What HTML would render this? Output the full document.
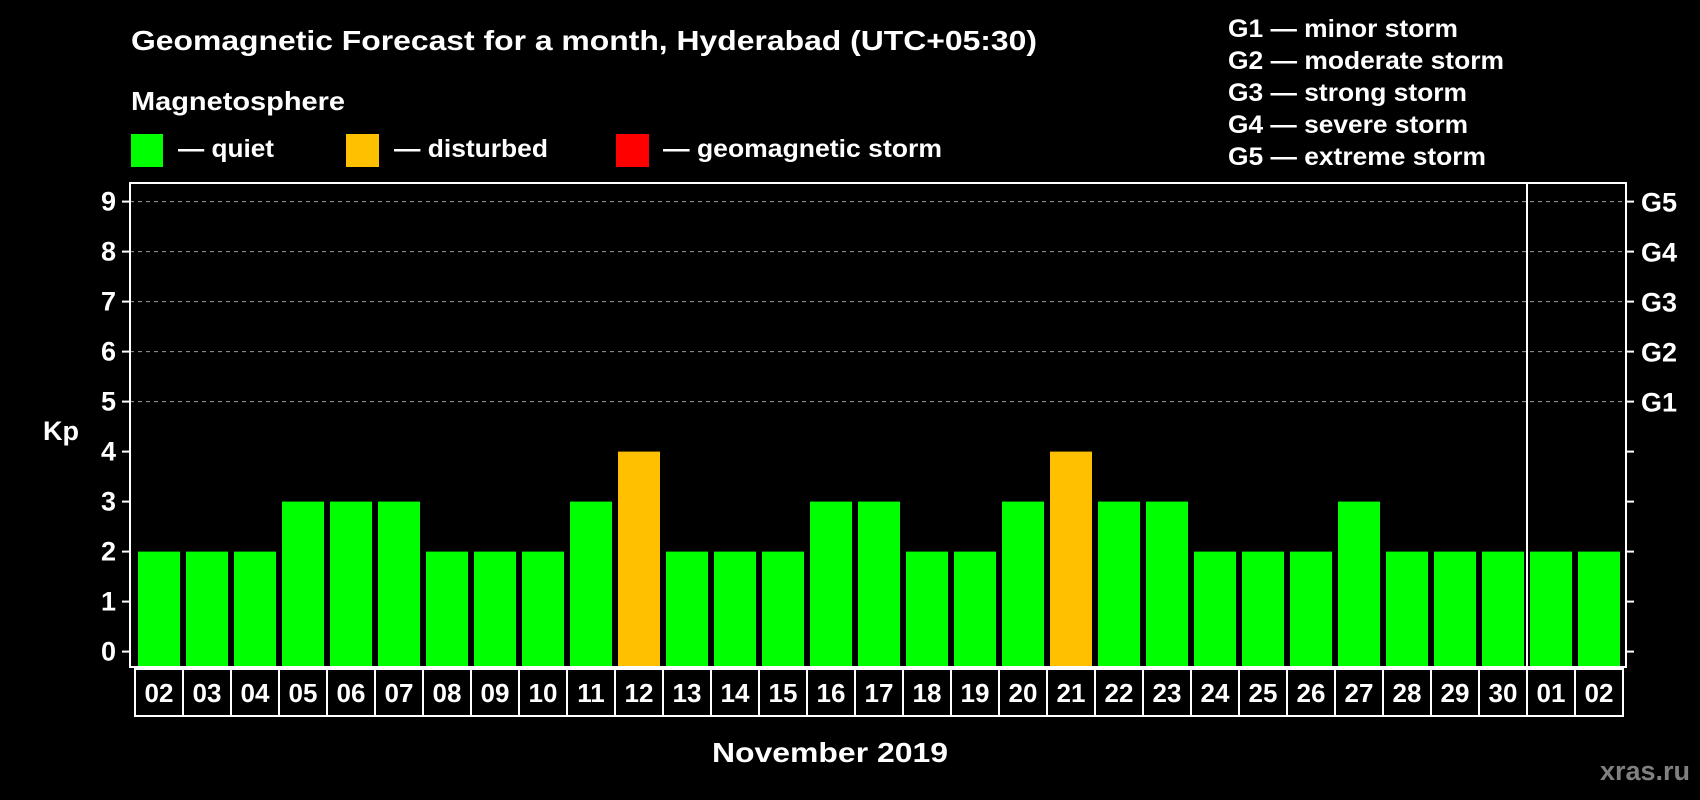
<!DOCTYPE html>
<html><head><meta charset="utf-8"><style>
html,body{margin:0;padding:0;background:#000;}
svg{display:block;font-family:"Liberation Sans",Arial,sans-serif;font-weight:bold;}
</style></head><body>
<svg id="chart" width="1700" height="800" viewBox="0 0 1700 800" xmlns="http://www.w3.org/2000/svg">
<rect x="0" y="0" width="1700" height="800" fill="#000"/>
<text x="131" y="50" fill="#fff" font-size="28" textLength="906" lengthAdjust="spacingAndGlyphs">Geomagnetic Forecast for a month, Hyderabad (UTC+05:30)</text>
<text x="131" y="110" fill="#fff" font-size="26" textLength="214" lengthAdjust="spacingAndGlyphs">Magnetosphere</text>
<g>
<rect x="131" y="134" width="32" height="33" fill="#00ff00"/>
<text x="178" y="157" fill="#fff" font-size="25" textLength="96" lengthAdjust="spacingAndGlyphs">— quiet</text>
</g>
<g>
<rect x="346" y="134" width="33" height="33" fill="#ffc000"/>
<text x="394" y="157" fill="#fff" font-size="25" textLength="154" lengthAdjust="spacingAndGlyphs">— disturbed</text>
</g>
<g>
<rect x="616" y="134" width="33" height="33" fill="#ff0000"/>
<text x="663" y="157" fill="#fff" font-size="25" textLength="279" lengthAdjust="spacingAndGlyphs">— geomagnetic storm</text>
</g>
<g fill="#fff" font-size="25">
<text x="1228" y="37" textLength="230" lengthAdjust="spacingAndGlyphs">G1 — minor storm</text>
<text x="1228" y="69" textLength="276" lengthAdjust="spacingAndGlyphs">G2 — moderate storm</text>
<text x="1228" y="101" textLength="239" lengthAdjust="spacingAndGlyphs">G3 — strong storm</text>
<text x="1228" y="133" textLength="240" lengthAdjust="spacingAndGlyphs">G4 — severe storm</text>
<text x="1228" y="165" textLength="258" lengthAdjust="spacingAndGlyphs">G5 — extreme storm</text>
</g>
<g id="plot"></g>
<text x="43" y="440" fill="#fff" font-size="27">Kp</text>
<text x="830" y="762" fill="#fff" font-size="28" text-anchor="middle" textLength="236" lengthAdjust="spacingAndGlyphs">November 2019</text>
<text x="1690" y="780" fill="#808080" font-size="27" text-anchor="end">xras.ru</text>
</svg>
<script>
const days = ["02","03","04","05","06","07","08","09","10","11","12","13","14","15","16","17","18","19","20","21","22","23","24","25","26","27","28","29","30","01","02"];
const kpValues = [2,2,2,3,3,3,2,2,2,3,4,2,2,2,3,3,2,2,3,4,3,3,2,2,2,3,2,2,2,2,2];
const yTicks = [0,1,2,3,4,5,6,7,8,9];
const gLevels = [5,6,7,8,9];
const gLabels = ["G1","G2","G3","G4","G5"];
const monthBreakIndex = 29;

const NS = "http://www.w3.org/2000/svg";
const plot = document.getElementById("plot");
const boxL = 130, boxR = 1626, boxT = 183, boxB = 667;
const y0 = 651.6, unit = 50;
const x0 = 135, pitch = 48, barW = 42;
const yScale = v => y0 - v * unit;
const xScale = i => x0 + i * pitch;
function mk(tag, attrs) { const e = document.createElementNS(NS, tag); for (const k in attrs) e.setAttribute(k, attrs[k]); plot.appendChild(e); return e; }

// gridlines
gLevels.forEach(v => {
  const l = mk("line", {x1: boxL, x2: boxR, y1: yScale(v), y2: yScale(v), stroke: "#9a9a9a", "stroke-width": 1, "stroke-dasharray": "4,4"});
  
  
});
// bars
kpValues.forEach((v, i) => {
  const r = mk("rect", {x: xScale(i) + 3, y: yScale(v), width: barW, height: boxB - yScale(v), fill: v >= 5 ? "#ff0000" : (v >= 4 ? "#ffc000" : "#00ff00")});
  
  
});
// plot box
const box = mk("rect", {x: boxL, y: boxT, width: boxR - boxL, height: boxB - boxT, fill: "none", stroke: "#fff", "stroke-width": 2});


const sep = mk("line", {x1: xScale(monthBreakIndex) + 0, x2: xScale(monthBreakIndex), y1: boxT, y2: boxB, stroke: "#fff", "stroke-width": 2});


// y ticks
yTicks.forEach(v => {
  const t = mk("line", {x1: 122, x2: boxL, y1: yScale(v), y2: yScale(v), stroke: "#fff", "stroke-width": 2});
  
  
  const lb = mk("text", {x: 116, y: yScale(v) + 9, fill: "#fff", "font-size": 27, "text-anchor": "end"});
  lb.textContent = v;
  
  
  const rt = mk("line", {x1: boxR, x2: 1634, y1: yScale(v), y2: yScale(v), stroke: "#fff", "stroke-width": 2});
  
  
});
gLevels.forEach((v, i) => {
  const lb = mk("text", {x: 1641, y: yScale(v) + 10, fill: "#fff", "font-size": 27});
  lb.textContent = gLabels[i];
  
  
});
// day label boxes
days.forEach((d, i) => {
  const r = mk("rect", {x: xScale(i), y: 669, width: pitch, height: 47, fill: "none", stroke: "#fff", "stroke-width": 2});
  
  
  const t = mk("text", {x: xScale(i) + pitch / 2, y: 702, fill: "#fff", "font-size": 26, "text-anchor": "middle"});
  t.textContent = d;
  
  
});
</script>
</body></html>
